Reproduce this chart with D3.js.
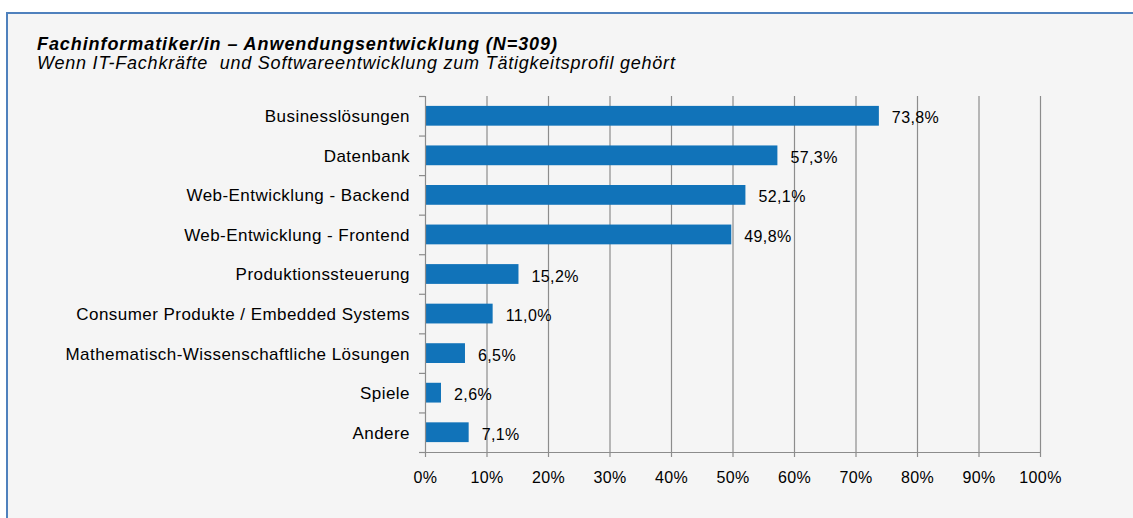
<!DOCTYPE html>
<html><head><meta charset="utf-8">
<script src="https://cdn.jsdelivr.net/npm/d3@7"></script>
<style>
html,body{margin:0;padding:0;background:#fff;}
svg{display:block;font-family:"Liberation Sans",Arial,sans-serif;}
</style></head>
<body>
<svg id="c" width="1133" height="518"></svg>
<script>
const categories = ["Businesslösungen","Datenbank","Web-Entwicklung - Backend","Web-Entwicklung - Frontend","Produktionssteuerung","Consumer Produkte / Embedded Systems","Mathematisch-Wissenschaftliche Lösungen","Spiele","Andere"];
const values = [73.8,57.3,52.1,49.8,15.2,11.0,6.5,2.6,7.1];
const tickValues = [0,10,20,30,40,50,60,70,80,90,100];
const title = "Fachinformatiker/in – Anwendungsentwicklung (N=309)";
const subtitle = "Wenn IT-Fachkräfte  und Softwareentwicklung zum Tätigkeitsprofil gehört";

const svg = d3.select("#c");
const W = 1133, H = 518;
svg.append("rect").attr("x",6).attr("y",12).attr("width",W).attr("height",H).attr("fill","#f5f5f5");
svg.append("line").attr("x1",6).attr("x2",W).attr("y1",13).attr("y2",13).attr("stroke","#4f81bd").attr("stroke-width",2);
svg.append("line").attr("x1",7).attr("x2",7).attr("y1",12).attr("y2",H).attr("stroke","#4f81bd").attr("stroke-width",2);

svg.append("text").attr("x",37).attr("y",50).attr("font-size",18).attr("letter-spacing","0.92px").attr("font-weight","bold").attr("font-style","italic").attr("fill","#000").text(title);
svg.append("text").attr("x",37).attr("y",69).attr("font-size",18).attr("letter-spacing","0.78px").attr("font-style","italic").attr("fill","#000").style("white-space","pre").attr("xml:space","preserve").text(subtitle);

const x = d3.scaleLinear().domain([0,100]).range([425,1040]);
const y = d3.scaleBand().domain(categories).range([96,452]).paddingInner(0.5).paddingOuter(0.25);
const grid = "#8c8c8c";

// gridlines
svg.append("g").selectAll("line").data(tickValues.slice(1)).join("line")
  .attr("x1",d=>x(d)+0.5).attr("x2",d=>x(d)+0.5).attr("y1",96).attr("y2",452)
  .attr("stroke",grid).attr("stroke-width",1.2);

// bars
svg.append("g").selectAll("rect").data(values).join("rect")
  .attr("x",x(0)).attr("y",(d,i)=>y(categories[i])).attr("width",d=>x(d)-x(0)).attr("height",y.bandwidth())
  .attr("fill","#1173b9");

// value labels
const fmt = d => d.toFixed(1).replace(".",",")+"%";
svg.append("g").selectAll("text").data(values).join("text")
  .attr("x",d=>x(d)+13).attr("y",(d,i)=>y(categories[i])+y.bandwidth()/2+7.5)
  .attr("font-size",16).attr("letter-spacing","0.4px").attr("fill","#000").text(fmt);

// x axis
const xAxis = d3.axisBottom(x).tickValues(tickValues).tickSize(5).tickPadding(8).tickFormat(d=>d+"%");
const gx = svg.append("g").attr("transform","translate(0,452)").call(xAxis);
gx.select(".domain").attr("stroke",grid).attr("stroke-width",1.2).attr("d","M425,0.5H1040");
gx.selectAll(".tick line").attr("stroke",grid).attr("stroke-width",1.2);
gx.selectAll(".tick text").attr("font-size",16).attr("letter-spacing","0.4px").attr("fill","#000").attr("font-family","Liberation Sans, Arial, sans-serif").attr("dy","1.12em");

// y axis
const yAxis = d3.axisLeft(y).tickSize(0).tickPadding(15);
const gy = svg.append("g").attr("transform","translate(425,0)").call(yAxis);
gy.select(".domain").attr("stroke",grid).attr("stroke-width",1.2).attr("d","M0.5,96V452");
gy.selectAll(".tick text").attr("font-size",17).attr("letter-spacing","0.45px").attr("fill","#000").attr("font-family","Liberation Sans, Arial, sans-serif").attr("dy","0.38em");
// category boundary ticks
const step = y.step();
const bounds = d3.range(categories.length+1).map(i=>96+i*step);
svg.append("g").selectAll("line").data(bounds).join("line")
  .attr("x1",419).attr("x2",425).attr("y1",d=>d+0.5).attr("y2",d=>d+0.5)
  .attr("stroke",grid).attr("stroke-width",1.2);
</script>
</body></html>
